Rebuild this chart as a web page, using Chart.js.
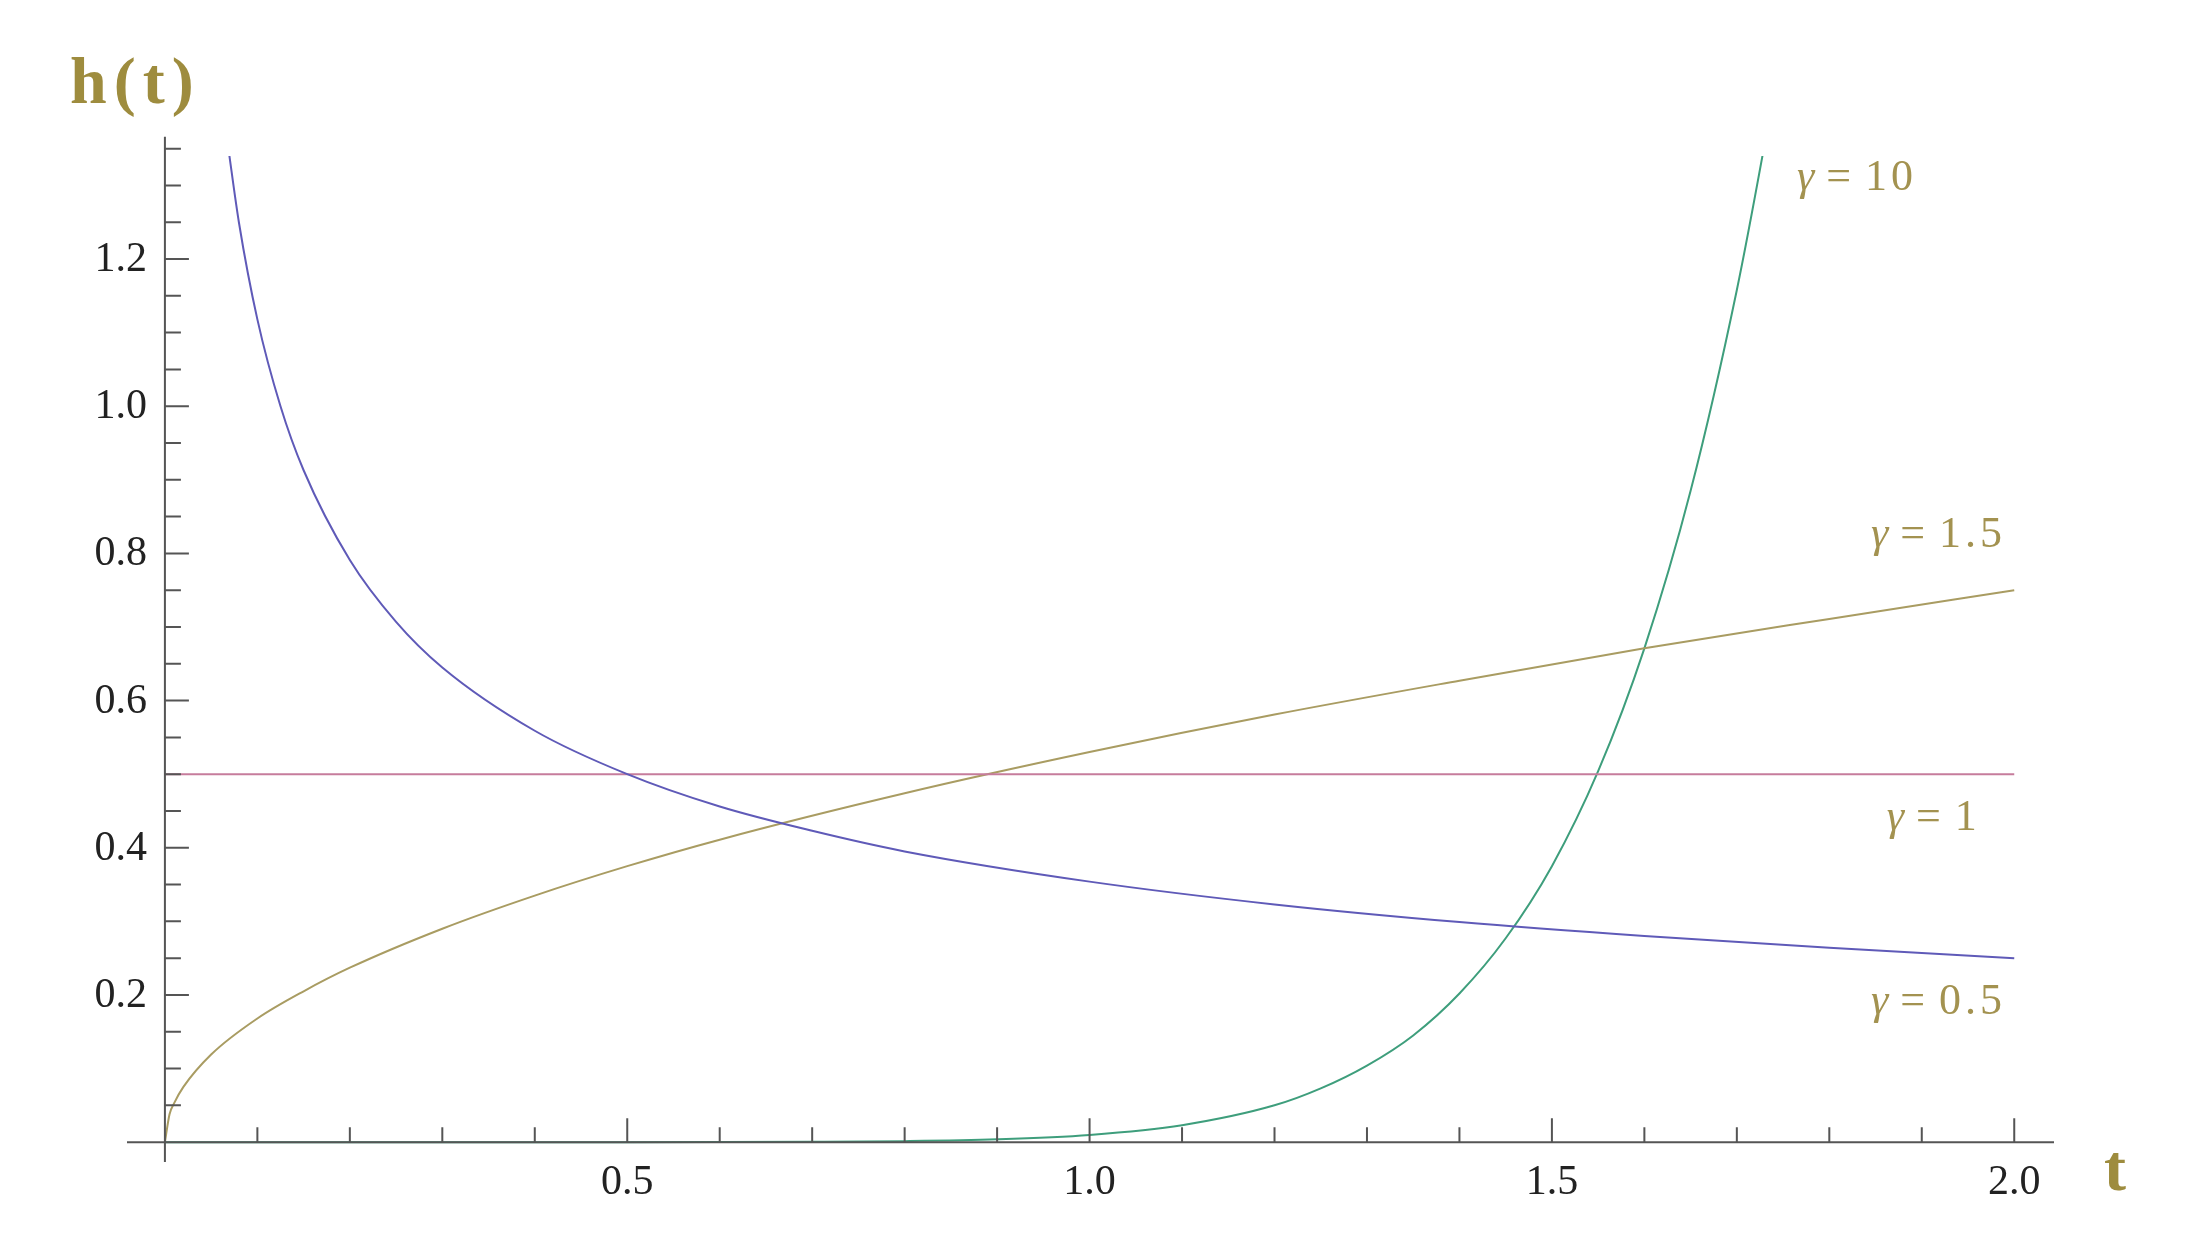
<!DOCTYPE html>
<html>
<head>
<meta charset="utf-8">
<title>h(t)</title>
<script src="https://cdn.jsdelivr.net/npm/chart.js@4/dist/chart.umd.min.js"></script>
<style>
  html, body { margin: 0; padding: 0; background: #fff; }
  #chart { display: block; }
</style>
</head>
<body>
<canvas id="chart" width="2187" height="1236"></canvas>
<script>
// Values (t, h) for each shape parameter
const tHalf = [0.068, 0.08, 0.1, 0.125, 0.15, 0.2, 0.25, 0.3, 0.4, 0.5, 0.6, 0.7, 0.8, 1.0, 1.2, 1.4, 1.6, 1.8, 2.0];
const hHalf = [1.356, 1.250, 1.118, 1.000, 0.913, 0.791, 0.707, 0.645, 0.559, 0.500, 0.456, 0.423, 0.395, 0.354, 0.323, 0.299, 0.280, 0.264, 0.250];

const tOne = [0, 2.0];
const hOne = [0.5, 0.5];

const tOneHalf = [0, 0.005, 0.01, 0.02, 0.05, 0.1, 0.15, 0.2, 0.3, 0.4, 0.5, 0.6, 0.8, 1.0, 1.2, 1.4, 1.6, 1.8, 2.0];
const hOneHalf = [0, 0.038, 0.053, 0.075, 0.119, 0.168, 0.205, 0.237, 0.290, 0.335, 0.375, 0.411, 0.474, 0.530, 0.581, 0.627, 0.671, 0.711, 0.750];

const tTen = [0, 0.5, 0.6, 0.7, 0.8, 0.9, 1.0, 1.1, 1.2, 1.25, 1.3, 1.35, 1.4, 1.45, 1.5, 1.55, 1.6, 1.65, 1.7, 1.73, 1.74];
const hTen = [0, 0, 0.0001, 0.0004, 0.0013, 0.0038, 0.0098, 0.023, 0.050, 0.073, 0.104, 0.145, 0.202, 0.277, 0.375, 0.504, 0.671, 0.885, 1.158, 1.356, 1.428];

// Axis ticks
const xMajor = [0.5, 1.0, 1.5, 2.0];
const xTickLabels = ['0.5', '1.0', '1.5', '2.0'];
const yMajor = [0.2, 0.4, 0.6, 0.8, 1.0, 1.2];
const yTickLabels = ['0.2', '0.4', '0.6', '0.8', '1.0', '1.2'];

// Curve labels
const curveLabels = ['10', '1.5', '1', '0.5'];
const curveLabelPos = [[1.765, 1.31], [1.845, 0.825], [1.862, 0.44], [1.845, 0.19]];

function toPoints(ts, hs) {
  return ts.map((t, i) => ({ x: t, y: hs[i] }));
}

const olive = '#9e8c3e';
const serif = '"Liberation Serif", "DejaVu Serif", serif';

// Mathematica-style axes crossing at the origin, plus the labels
const axesPlugin = {
  id: 'axesPlugin',
  afterDatasetsDraw(chart) {
    const ctx = chart.ctx;
    const xs = chart.scales.x;
    const ys = chart.scales.y;
    const area = chart.chartArea;
    const x0 = xs.getPixelForValue(0);
    const y0 = ys.getPixelForValue(0);
    const yTop = ys.getPixelForValue(1.366);

    ctx.save();
    ctx.strokeStyle = '#555';
    ctx.lineWidth = 2;

    // axis lines
    ctx.beginPath();
    ctx.moveTo(area.left, y0);
    ctx.lineTo(area.right, y0);
    ctx.moveTo(x0, yTop);
    ctx.lineTo(x0, area.bottom);
    ctx.stroke();

    // x ticks every 0.1, long ones at 0.5
    ctx.beginPath();
    for (let i = 1; i <= 20; i++) {
      const px = xs.getPixelForValue(i / 10);
      const len = i % 5 === 0 ? 24 : 15;
      ctx.moveTo(px, y0);
      ctx.lineTo(px, y0 - len);
    }
    // y ticks every 0.05, long ones at 0.2
    for (let i = 1; i <= 27; i++) {
      const py = ys.getPixelForValue(i / 20);
      const len = i % 4 === 0 ? 24 : 16;
      ctx.moveTo(x0, py);
      ctx.lineTo(x0 + len, py);
    }
    ctx.stroke();

    // tick labels
    ctx.fillStyle = '#222';
    ctx.font = '42px ' + serif;
    ctx.textAlign = 'center';
    ctx.textBaseline = 'alphabetic';
    xMajor.forEach((v, i) => {
      ctx.fillText(xTickLabels[i], xs.getPixelForValue(v), y0 + 52);
    });
    ctx.textAlign = 'right';
    ctx.textBaseline = 'middle';
    yMajor.forEach((v, i) => {
      ctx.fillText(yTickLabels[i], x0 - 18, ys.getPixelForValue(v) + 1);
    });

    // axis titles
    ctx.fillStyle = olive;
    ctx.font = 'bold 66px ' + serif;
    ctx.textAlign = 'left';
    ctx.textBaseline = 'alphabetic';
    ctx.letterSpacing = '7px';
    ctx.fillText('h(t)', 70, 103);
    ctx.letterSpacing = '0px';
    ctx.fillText('t', 2104, 1190);

    // curve labels: italic gamma, then "= value"
    ctx.fillStyle = '#a39250';
    ctx.textBaseline = 'middle';
    curveLabels.forEach((txt, i) => {
      let px = xs.getPixelForValue(curveLabelPos[i][0]);
      const py = ys.getPixelForValue(curveLabelPos[i][1]);
      ctx.font = 'italic 44px ' + serif;
      ctx.fillText('\u03b3', px, py);
      px += ctx.measureText('\u03b3').width + 12;
      ctx.font = '44px ' + serif;
      ctx.fillText('=', px, py);
      px += ctx.measureText('=').width + 14;
      ctx.letterSpacing = '4px';
      ctx.fillText(txt, px, py);
      ctx.letterSpacing = '0px';
    });
    ctx.restore();
  }
};

const ctx = document.getElementById('chart').getContext('2d');
new Chart(ctx, {
  type: 'line',
  data: {
    datasets: [
      { label: '\u03b3 = 0.5', data: toPoints(tHalf, hHalf), borderColor: '#5f5ab8' },
      { label: '\u03b3 = 1', data: toPoints(tOne, hOne), borderColor: '#c67c9c' },
      { label: '\u03b3 = 1.5', data: toPoints(tOneHalf, hOneHalf), borderColor: '#a99c62' },
      { label: '\u03b3 = 10', data: toPoints(tTen, hTen), borderColor: '#3e9e7c' }
    ].map(ds => Object.assign(ds, {
      borderWidth: 2,
      pointRadius: 0,
      fill: false,
      cubicInterpolationMode: 'monotone'
    }))
  },
  options: {
    responsive: false,
    animation: false,
    layout: { padding: { left: 127, right: 133, top: 156, bottom: 74 } },
    plugins: {
      legend: { display: false },
      tooltip: { enabled: false }
    },
    scales: {
      x: { type: 'linear', min: -0.041, max: 2.043, display: false },
      y: { type: 'linear', min: -0.027, max: 1.34, display: false }
    }
  },
  plugins: [axesPlugin]
});
</script>
</body>
</html>
